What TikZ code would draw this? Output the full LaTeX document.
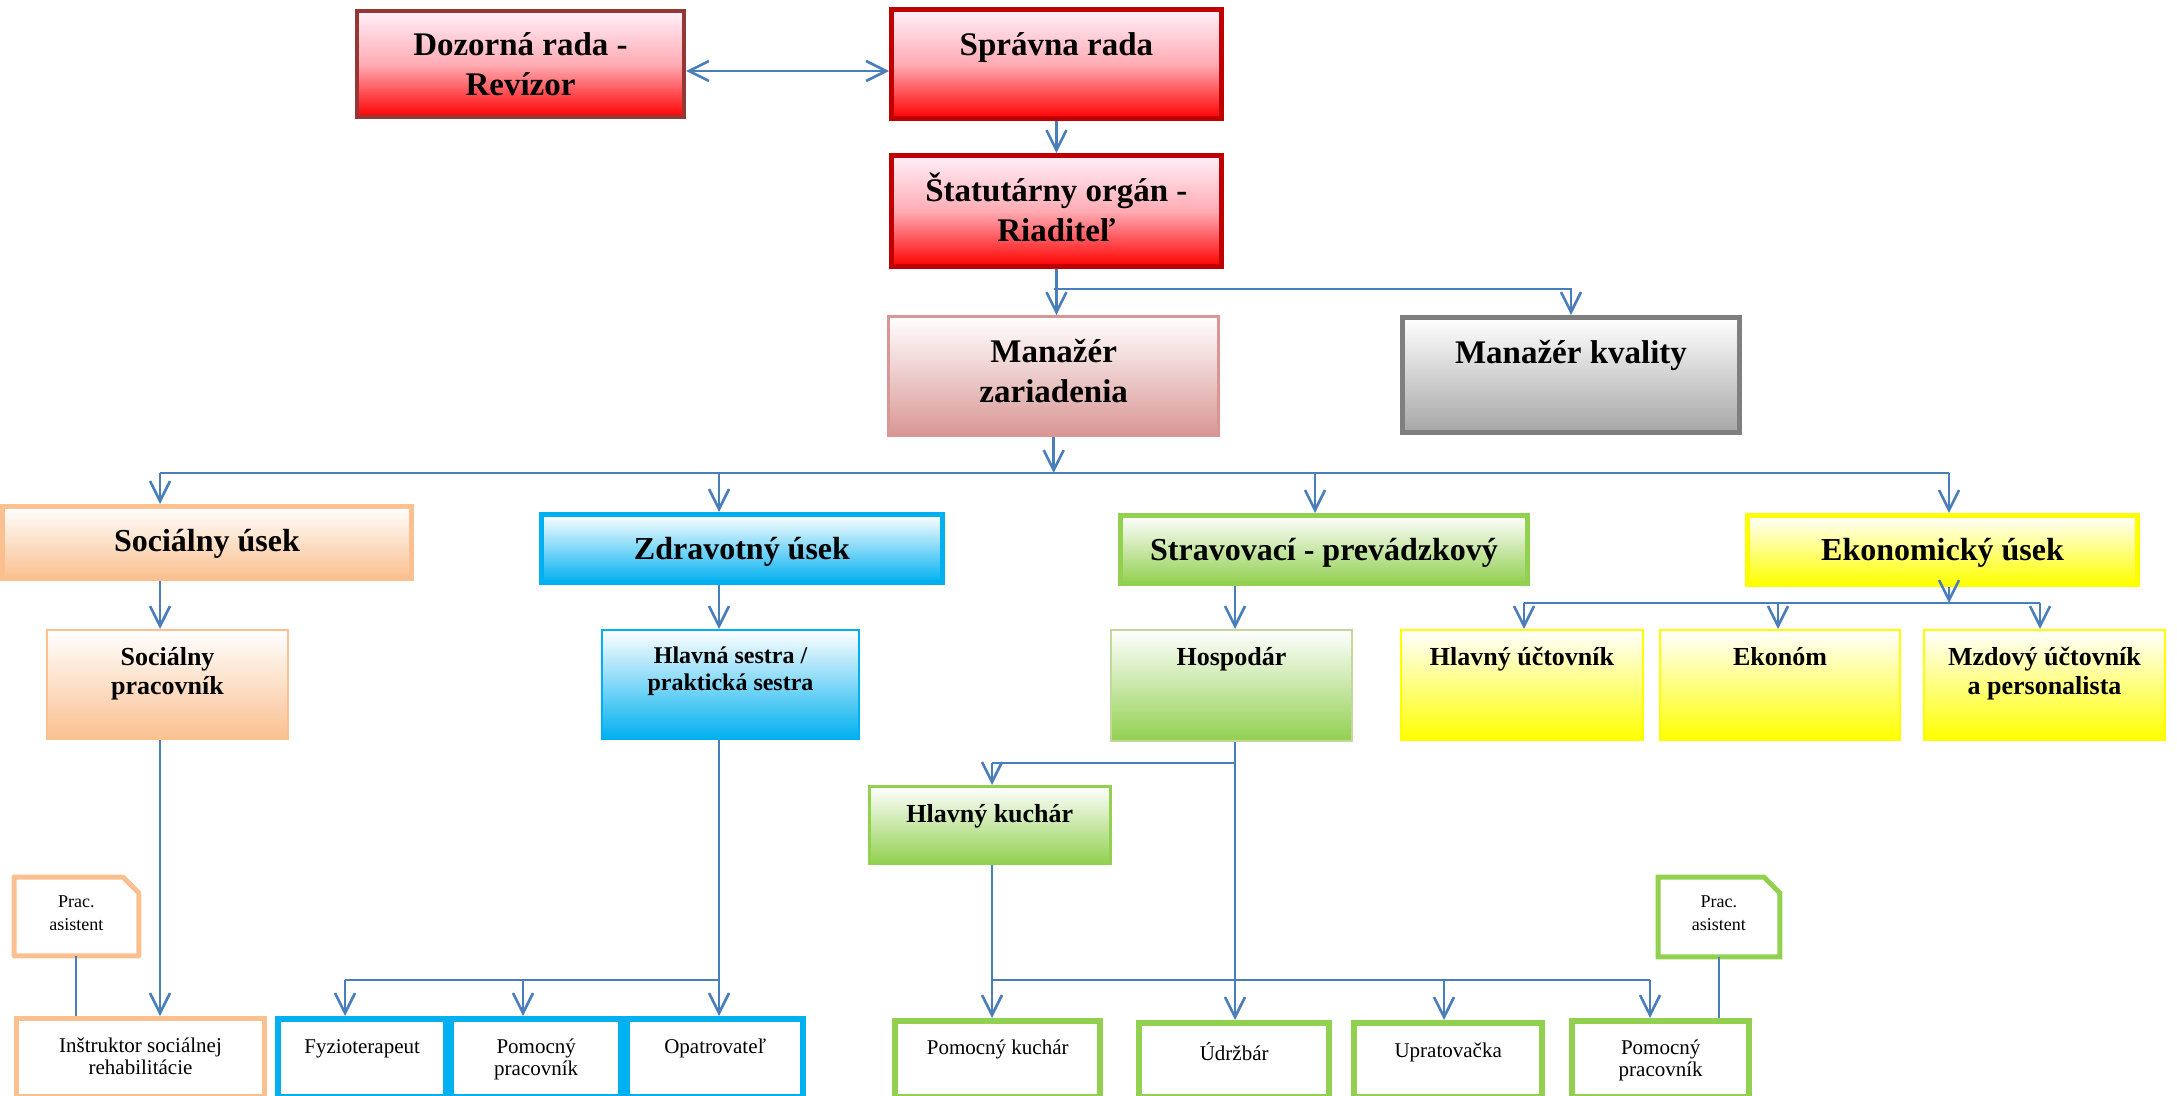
\documentclass[tikz,border=0pt]{standalone}
\usepackage{fontspec}
\setmainfont{Liberation Serif}
\usepackage{xcolor}
\definecolor{linkblue}{HTML}{4A7EBB}
\definecolor{boardred}{HTML}{C00000}
\definecolor{auditred}{HTML}{953735}
\definecolor{blush}{HTML}{FFF0FA}
\definecolor{pinkmid}{HTML}{FFACB4}
\definecolor{palered}{HTML}{D99694}
\definecolor{qualgray}{HTML}{7F7F7F}
\definecolor{qualfill}{HTML}{A6A6A6}
\definecolor{socorange}{HTML}{FAC090}
\definecolor{healthblue}{HTML}{00B0F0}
\definecolor{foodgreen}{HTML}{92D050}
\definecolor{foodpale}{HTML}{C3D69B}
\definecolor{econyellow}{HTML}{FFFF00}
\usetikzlibrary{arrows.meta,positioning}

% box content: width and height in px (1px = 0.5pt), top padding, text
\newcommand{\bx}[4]{\parbox[c][\dimexpr#2pt/2\relax][t]{\dimexpr#1pt/2\relax}{\centering\vspace*{#3}\strut#4}}

\tikzset{
    box/.style={inner sep=0pt, anchor=north west, text=black},
    head/.style={box, font=\fontsize{16.5}{20}\selectfont\bfseries},
    dept/.style={box, line width=2.5pt, font=\fontsize{16}{19}\selectfont\bfseries},
    unit/.style={box, line width=1pt, font=\fontsize{13}{14.5}\selectfont\bfseries},
    staff/.style={box, line width=3.2pt, font=\fontsize{10.5}{11}\selectfont},
    helper/.style={box, font=\fontsize{9}{11.5}\selectfont},
    redfill/.style={top color=blush, bottom color=red, middle color=pinkmid},
    shadeto/.style={top color=white, bottom color=#1},
    link/.style={draw=linkblue, line width=1.3pt},
    arr/.style={link, -{Straight Barb[length=10pt,width=10pt]}},
    dblarr/.style={link, {Straight Barb[length=10pt,width=10pt]}-{Straight Barb[length=10pt,width=10pt]}},
}

\begin{document}
\begin{tikzpicture}[x=0.5pt, y=-0.5pt]
    \useasboundingbox (0,0) rectangle (2177,1096);

    % Board and director
    \node[head, draw=auditred, line width=2pt, redfill] (dozor) at (355,9) {\bx{327}{106}{8.5pt}{Dozorná rada -\\Revízor}};
    \node[head, draw=boardred, line width=2.4pt, redfill] (sprava) at (889,7) {\bx{330}{109}{9pt}{Správna rada}};
    \node[head, draw=boardred, line width=2.4pt, redfill] (stat) at (889,153) {\bx{330}{111}{8.5pt}{Štatutárny orgán -\\Riaditeľ}};
    \node[head, draw=palered, line width=1.7pt, shadeto=palered] (manzar) at (887,315) {\bx{330}{119}{9pt}{Manažér\\zariadenia}};
    \node[head, draw=qualgray, line width=2.5pt, shadeto=qualfill] (mankval) at (1400,315) {\bx{337}{115}{9pt}{Manažér kvality}};

    % Departments
    \node[dept, draw=socorange, shadeto=socorange] (socu) at (0,504) {\bx{409}{72}{9pt}{Sociálny úsek}};
    \node[dept, draw=healthblue, shadeto=healthblue] (zdru) at (539,512) {\bx{401}{68}{9pt}{Zdravotný úsek}};
    \node[dept, draw=foodgreen, shadeto=foodgreen] (stru) at (1118,513) {\bx{407}{68}{9pt}{Stravovací - prevádzkový}};
    \node[dept, draw=econyellow, shadeto=econyellow] (ekou) at (1745,513) {\bx{390}{69}{9pt}{Ekonomický úsek}};

    % Heads of units
    \node[unit, draw=socorange, shadeto=socorange] (socprac) at (46,629) {\bx{241}{109}{7.8pt}{Sociálny\\pracovník}};
    \node[unit, font=\fontsize{12}{13.5}\selectfont\bfseries, draw=healthblue, shadeto=healthblue] (sestra) at (601,629) {\bx{257}{109}{7.5pt}{Hlavná sestra /\\praktická sestra}};
    \node[unit, draw=foodpale, shadeto=foodgreen] (hosp) at (1110,629) {\bx{241}{111}{7.8pt}{Hospodár}};
    \node[unit, draw=econyellow, shadeto=econyellow] (hlucto) at (1400,629) {\bx{242}{110}{7.8pt}{Hlavný účtovník}};
    \node[unit, draw=econyellow, shadeto=econyellow] (ekonom) at (1659,629) {\bx{240}{110}{7.8pt}{Ekonóm}};
    \node[unit, draw=econyellow, shadeto=econyellow] (mzdovy) at (1923,629) {\bx{241}{110}{7.8pt}{Mzdový účtovník\\a personalista}};
    \node[unit, line width=1.3pt, draw=foodgreen, shadeto=foodgreen] (kuchar) at (868,785) {\bx{241}{77}{7.8pt}{Hlavný kuchár}};

    % Assistants (cut corner drawn below)
    \node[helper] (asorange) at (14,877) {\bx{124}{78}{7pt}{Prac.\\asistent}};
    \node[helper] (asgreen) at (1658,877) {\bx{121}{79}{7pt}{Prac.\\asistent}};
    \draw[socorange, line width=2.5pt, line join=round] (asorange.south west) -- (asorange.north west) -- ([xshift=-8pt]asorange.north east) -- ([yshift=-8pt]asorange.north east) -- (asorange.south east) -- cycle;
    \draw[foodgreen, line width=2.5pt] (asgreen.south west) -- (asgreen.north west) -- ([xshift=-8pt]asgreen.north east) -- ([yshift=-8pt]asgreen.north east) -- (asgreen.south east) -- cycle;

    % Staff
    \node[staff, line width=2.5pt, draw=socorange] (instr) at (14,1016) {\bx{248}{78}{9.5pt}{Inštruktor sociálnej\\rehabilitácie}};
    \node[staff, draw=healthblue] (fyzio) at (275,1016) {\bx{168}{78}{9.5pt}{Fyzioterapeut}};
    \node[staff, draw=healthblue] (pomprac1) at (448,1016) {\bx{170}{78}{9.5pt}{Pomocný\\pracovník}};
    \node[staff, draw=healthblue] (opatr) at (624,1016) {\bx{176}{78}{9.5pt}{Opatrovateľ}};
    \node[staff, draw=foodgreen] (pomkuch) at (892,1018) {\bx{205}{76}{9pt}{Pomocný kuchár}};
    \node[staff, draw=foodgreen] (udrz) at (1136,1020) {\bx{190}{74}{9.5pt}{Údržbár}};
    \node[staff, draw=foodgreen] (uprat) at (1351,1020) {\bx{188}{74}{9.5pt}{Upratovačka}};
    \node[staff, draw=foodgreen] (pomprac2) at (1569,1018) {\bx{177}{76}{9pt}{Pomocný\\pracovník}};

    % Junction points
    \coordinate (stj) at (1054,289);
    \coordinate (busl) at (160,473);
    \coordinate (dz) at (719,473);
    \coordinate (ds) at (1315,473);
    \coordinate (busr) at (1949,473);
    \coordinate (ekl) at (1524,603);
    \coordinate (ekm) at (1778,603);
    \coordinate (ekr) at (2040,603);
    \coordinate (hj) at (1235,763);
    \coordinate (kj) at (992,763);
    \coordinate (zl) at (345,980);
    \coordinate (zm) at (523,980);
    \coordinate (zr) at (719,980);
    \coordinate (kl) at (992,980);
    \coordinate (km) at (1444,980);
    \coordinate (kr) at (1650,980);

    % Top connectors
    \draw[dblarr] ([yshift=-3.5pt]dozor.east) -- ([yshift=-3.5pt]dozor.east -| sprava.west);
    \draw[arr] (sprava.south) -- (stat.north);
    \draw[arr] (stat.south) -- (stat.south |- manzar.north);
    \draw[arr] (stj) -| (mankval.north);

    % Main bus to departments
    \draw[arr] (manzar.south) -- (manzar.south |- busl);
    \draw[link] (busl) -- (busr);
    \draw[arr] (busl) -- (busl |- socu.north);
    \draw[arr] (dz) -- (dz |- zdru.north);
    \draw[arr] (ds) -- (ds |- stru.north);
    \draw[arr] (busr) -- (busr |- ekou.north);

    % Departments to units
    \draw[arr] (busl |- socu.south) -- (busl |- socprac.north);
    \draw[arr] (dz |- zdru.south) -- (dz |- sestra.north);
    \draw[arr] (hj |- stru.south) -- (hj |- hosp.north);
    \draw[arr] (busr |- ekou.south) -- (busr |- ekl);
    \draw[link] (ekl) -- (ekr);
    \foreach \c/\n in {ekl/hlucto, ekm/ekonom, ekr/mzdovy}
        \draw[arr] (\c) -- (\c |- \n.north);

    % Social
    \draw[arr] (busl |- socprac.south) -- (busl |- instr.north);
    \draw[link, line width=1pt] (asorange.south) -- (asorange.south |- instr.north);

    % Health
    \draw[link] (zr |- sestra.south) -- (zr) -- (zl);
    \foreach \c/\n in {zl/fyzio, zm/pomprac1, zr/opatr}
        \draw[arr] (\c) -- (\c |- \n.north);

    % Food and operations
    \draw[link] (hj |- hosp.south) -- (hj) -- (kj);
    \draw[arr] (kj) -- (kj |- kuchar.north);
    \draw[arr] (hj) -- (hj |- udrz.north);
    \draw[link] (kj |- kuchar.south) -- (kl) -- (kr);
    \foreach \c/\n in {kl/pomkuch, km/uprat, kr/pomprac2}
        \draw[arr] (\c) -- (\c |- \n.north);
    \draw[link, line width=1pt] (asgreen.south) -- (asgreen.south |- pomprac2.north);
\end{tikzpicture}
\end{document}
